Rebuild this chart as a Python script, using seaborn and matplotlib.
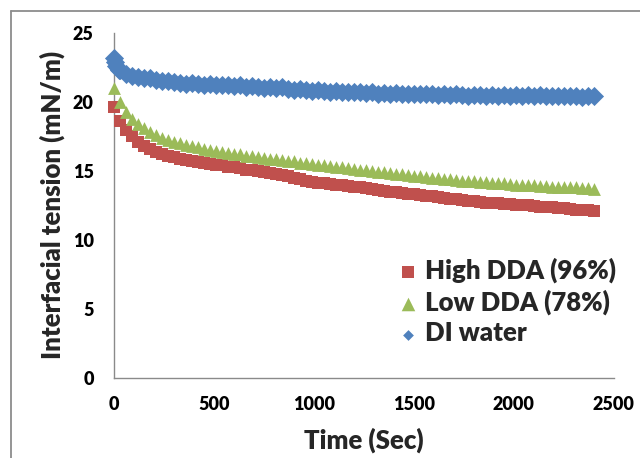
"""
Interfacial tension vs time for chitosan samples (High / Low DDA) and DI water.
"""
import numpy as np
import pandas as pd
import matplotlib
matplotlib.use("Agg")
import matplotlib.pyplot as plt
from matplotlib.lines import Line2D
import seaborn as sns

# ---------------------------------------------------------------------------
# Data
# ---------------------------------------------------------------------------
time_sec = [
    0, 30, 60, 90, 120, 150, 180, 210, 240, 270, 300, 330, 360, 390, 420, 450,
    480, 510, 540, 570, 600, 630, 660, 690, 720, 750, 780, 810, 840, 870, 900,
    930, 960, 990, 1020, 1050, 1080, 1110, 1140, 1170, 1200, 1230, 1260, 1290,
    1320, 1350, 1380, 1410, 1440, 1470, 1500, 1530, 1560, 1590, 1620, 1650,
    1680, 1710, 1740, 1770, 1800, 1830, 1860, 1890, 1920, 1950, 1980, 2010,
    2040, 2070, 2100, 2130, 2160, 2190, 2220, 2250, 2280, 2310, 2340, 2370, 2400,
]

high_dda = [
    19.6, 18.6, 18.0, 17.5, 17.1, 16.8, 16.6, 16.4, 16.25, 16.1, 16.0, 15.9,
    15.8, 15.7, 15.65, 15.6, 15.5, 15.45, 15.4, 15.3, 15.25, 15.2, 15.1, 15.05,
    15.0, 14.9, 14.85, 14.8, 14.7, 14.6, 14.5, 14.4, 14.3, 14.2, 14.15, 14.1,
    14.05, 14.0, 13.95, 13.9, 13.85, 13.8, 13.75, 13.7, 13.6, 13.55, 13.5,
    13.45, 13.4, 13.35, 13.3, 13.25, 13.2, 13.15, 13.1, 13.05, 13.0, 12.95,
    12.9, 12.85, 12.8, 12.75, 12.7, 12.7, 12.65, 12.6, 12.6, 12.55, 12.5, 12.5,
    12.45, 12.4, 12.4, 12.35, 12.3, 12.3, 12.25, 12.2, 12.2, 12.15, 12.1,
]

low_dda = [
    21.0, 20.0, 19.3, 18.8, 18.4, 18.1, 17.8, 17.6, 17.4, 17.25, 17.1, 17.0,
    16.9, 16.8, 16.7, 16.6, 16.5, 16.45, 16.4, 16.3, 16.25, 16.2, 16.1, 16.05,
    16.0, 15.95, 15.9, 15.85, 15.8, 15.75, 15.7, 15.6, 15.55, 15.5, 15.45, 15.4,
    15.35, 15.3, 15.25, 15.2, 15.15, 15.1, 15.05, 15.0, 14.95, 14.9, 14.85,
    14.8, 14.75, 14.7, 14.65, 14.6, 14.55, 14.5, 14.5, 14.45, 14.4, 14.35,
    14.3, 14.3, 14.25, 14.2, 14.2, 14.15, 14.1, 14.1, 14.05, 14.0, 14.0, 13.95,
    13.95, 13.9, 13.9, 13.85, 13.85, 13.8, 13.8, 13.8, 13.75, 13.75, 13.7,
]

# DI water was sampled more densely right at the start
di_early_time = [0, 6, 12, 18, 24]
di_early = [23.2, 22.9, 22.6, 22.45, 22.35]
di_water = [
    22.3, 22.0, 21.9, 21.8, 21.75, 21.7, 21.6, 21.55, 21.5, 21.45, 21.4, 21.3,
    21.35, 21.3, 21.25, 21.3, 21.2, 21.25, 21.2, 21.15, 21.2, 21.1, 21.15, 21.1,
    21.0, 21.05, 21.0, 21.05, 20.95, 20.85, 20.95, 20.9, 20.8, 20.85, 20.8,
    20.75, 20.8, 20.7, 20.75, 20.7, 20.7, 20.65, 20.7, 20.6, 20.65, 20.6, 20.65,
    20.6, 20.55, 20.6, 20.6, 20.55, 20.6, 20.5, 20.55, 20.5, 20.55, 20.5, 20.45,
    20.5, 20.5, 20.45, 20.5, 20.45, 20.5, 20.45, 20.5, 20.45, 20.5, 20.45,
    20.5, 20.45, 20.4, 20.45, 20.4, 20.45, 20.4, 20.35, 20.45, 20.4,
]

LABELS = ["High DDA (96%)", "Low DDA (78%)", "DI water"]

# ---------------------------------------------------------------------------
# Style
# ---------------------------------------------------------------------------
sns.set_theme(style="white")
plt.rcParams.update({
    "font.family": ["Lato", "DejaVu Sans"],
    "font.weight": "heavy",
    "axes.edgecolor": "#8a8a8a",
    "axes.linewidth": 1.0,
    "xtick.color": "#8a8a8a",
    "ytick.color": "#8a8a8a",
    "xtick.labelcolor": "black",
    "ytick.labelcolor": "black",
})

COLOR_HIGH = "#C0504D"
COLOR_LOW = "#9BBB59"
COLOR_DI = "#4F81BD"

fig, ax = plt.subplots(figsize=(6.4, 4.58), dpi=100)
fig.subplots_adjust(left=0.178, right=0.959, bottom=0.175, top=0.928)

df_high = pd.DataFrame({"t": time_sec, "ift": high_dda})
df_low = pd.DataFrame({"t": time_sec, "ift": low_dda})
df_di = pd.DataFrame({"t": di_early_time + time_sec[1:], "ift": di_early + di_water})

sns.scatterplot(data=df_high, x="t", y="ift", marker="s", s=75, color=COLOR_HIGH,
                linewidth=0, label=LABELS[0], ax=ax, clip_on=False, zorder=3)
sns.scatterplot(data=df_low, x="t", y="ift", marker="^", s=85, color=COLOR_LOW,
                linewidth=0, label=LABELS[1], ax=ax, clip_on=False, zorder=3)
sns.scatterplot(data=df_di, x="t", y="ift", marker="D", s=95, color=COLOR_DI,
                linewidth=0, label=LABELS[2], ax=ax, clip_on=False, zorder=3)

ax.set_xlim(0, 2500)
ax.set_ylim(0, 25)
ax.set_xticks(np.arange(0, 2501, 500))
ax.set_yticks(np.arange(0, 26, 5))
ax.tick_params(axis="x", direction="out", length=5, width=1, labelsize=13, pad=8)
ax.tick_params(axis="y", direction="out", length=4.5, width=1, labelsize=13, pad=10)
for lbl in ax.get_xticklabels() + ax.get_yticklabels():
    lbl.set_fontweight("heavy")
ax.spines["top"].set_visible(False)
ax.spines["right"].set_visible(False)

ax.set_xlabel("Time (Sec)", fontsize=18.5, fontweight="heavy")
ax.set_ylabel("Interfacial tension (mN/m)", fontsize=18.5, fontweight="heavy")
ax.xaxis.set_label_coords(0.5, -0.145)
ax.yaxis.set_label_coords(-0.098, 0.5)

leg = ax.legend(loc="upper left", bbox_to_anchor=(0.542, 0.386), frameon=False,
                prop={"weight": "heavy", "size": 18.5}, handlelength=0.8,
                handletextpad=0.27, labelspacing=0.25, borderpad=0)
# legend markers: square and triangle full size, diamond small as in the reference
leg.legend_handles[0].set_sizes([85])
leg.legend_handles[1].set_sizes([95])
leg.legend_handles[2].set_sizes([30])

# chart-area border (only top and left edges are visible in the crop)
border = "#8c8c8c"
fig.add_artist(Line2D([11 / 640, 1], [1 - 11 / 458, 1 - 11 / 458],
                      transform=fig.transFigure, color=border, lw=1.3))
fig.add_artist(Line2D([11 / 640, 11 / 640], [0, 1 - 11 / 458],
                      transform=fig.transFigure, color=border, lw=1.3))

fig.savefig("out.png", dpi=100)
plt.close(fig)
